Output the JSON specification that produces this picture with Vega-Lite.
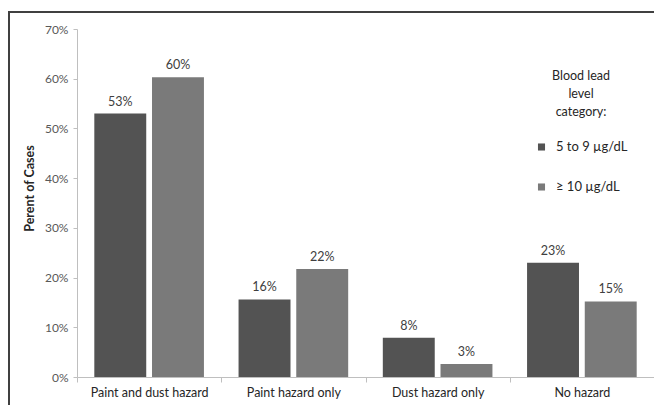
{
  "$schema": "https://vega.github.io/schema/vega-lite/v6.json",
  "width": 647,
  "height": 395,
  "autosize": {"type": "none"},
  "padding": {"left": 9, "top": 12, "right": -2, "bottom": -2},
  "config": {
    "view": {"stroke": "#404040", "strokeWidth": 2},
    "font": "Lato"
  },
  "data": {
    "values": [
      {"hazard": "Paint and dust hazard", "level": "5 to 9 µg/dL", "pct": 0.530},
      {"hazard": "Paint and dust hazard", "level": "≥ 10 µg/dL", "pct": 0.603},
      {"hazard": "Paint hazard only", "level": "5 to 9 µg/dL", "pct": 0.156},
      {"hazard": "Paint hazard only", "level": "≥ 10 µg/dL", "pct": 0.217},
      {"hazard": "Dust hazard only", "level": "5 to 9 µg/dL", "pct": 0.079},
      {"hazard": "Dust hazard only", "level": "≥ 10 µg/dL", "pct": 0.026},
      {"hazard": "No hazard", "level": "5 to 9 µg/dL", "pct": 0.230},
      {"hazard": "No hazard", "level": "≥ 10 µg/dL", "pct": 0.152}
    ]
  },
  "encoding": {
    "x": {
      "field": "hazard",
      "type": "nominal",
      "sort": ["Paint and dust hazard", "Paint hazard only", "Dust hazard only", "No hazard"],
      "scale": {"type": "band", "range": [68, 645], "paddingInner": 0, "paddingOuter": 0},
      "axis": {
        "orient": "bottom",
        "offset": -30,
        "title": null,
        "labelAngle": 0,
        "domainColor": "#bfbfbf",
        "tickColor": "#bfbfbf",
        "tickBand": "extent",
        "tickSize": 5,
        "labelPadding": 4,
        "labelFontSize": 12.5,
        "labelColor": "#262626"
      }
    },
    "xOffset": {
      "field": "level",
      "type": "nominal",
      "sort": ["5 to 9 µg/dL", "≥ 10 µg/dL"],
      "scale": {"paddingInner": 0.1, "paddingOuter": 0.3}
    },
    "y": {
      "field": "pct",
      "type": "quantitative",
      "scale": {"domain": [0, 0.7], "range": [365, 17], "nice": false},
      "axis": {
        "orient": "left",
        "offset": -68,
        "values": [0, 0.1, 0.2, 0.3, 0.4, 0.5, 0.6, 0.7],
        "format": ".0%",
        "grid": false,
        "domainColor": "#bfbfbf",
        "tickColor": "#bfbfbf",
        "tickSize": 4,
        "labelPadding": 5,
        "labelFontSize": 12,
        "labelColor": "#595959",
        "title": "Perent of Cases",
        "titleFontSize": 12.5,
        "titleFontWeight": "bold",
        "titleColor": "#262626",
        "titleX": -41,
        "titleY": 176
      }
    }
  },
  "layer": [
    {
      "mark": {"type": "bar"},
      "encoding": {
        "color": {
          "field": "level",
          "type": "nominal",
          "scale": {"domain": ["5 to 9 µg/dL", "≥ 10 µg/dL"], "range": ["#535353", "#7a7a7a"]},
          "legend": {
            "title": ["Blood lead", "level", "category:"],
            "orient": "none",
            "legendX": 526,
            "legendY": 58,
            "padding": 0,
            "titleAnchor": "middle",
            "titleAlign": "center",
            "titleFontSize": 12.5,
            "titleFontWeight": "normal",
            "titleColor": "#262626",
            "titleLineHeight": 18,
            "titlePadding": 22,
            "symbolType": "square",
            "symbolSize": 50,
            "symbolStrokeWidth": 0,
            "labelFontSize": 13,
            "labelColor": "#262626",
            "labelOffset": 8,
            "rowPadding": 26
          }
        }
      }
    },
    {
      "mark": {"type": "text", "baseline": "bottom", "dy": -5, "fontSize": 12.5, "color": "#404040"},
      "encoding": {
        "text": {"field": "pct", "type": "quantitative", "format": ".0%"}
      }
    }
  ]
}
